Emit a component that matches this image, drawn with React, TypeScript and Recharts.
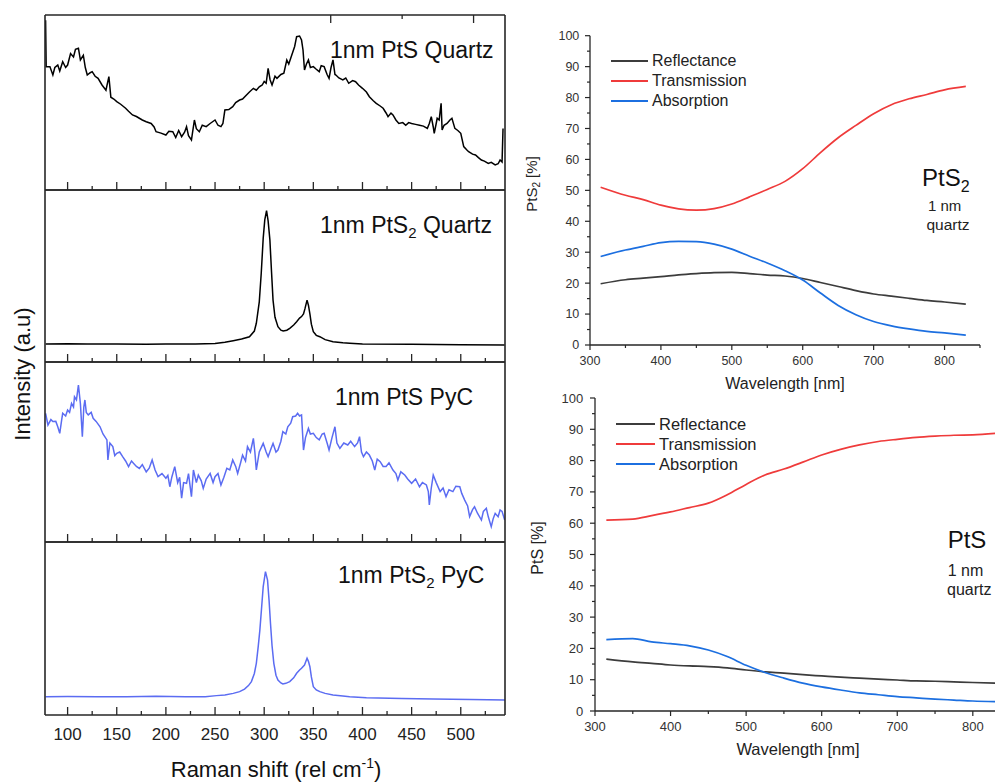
import { LineChart, Line, XAxis, YAxis, Legend } from 'recharts'

// Raman spectra: [shift (rel cm-1), intensity (0-100 = panel height)]
const ptsQuartz: [number, number][] = [
  [77.6, 97], [78.2, 70.5], [82, 70.5], [85, 65.7], [87, 70], [90, 71.4], [92, 68], [95, 73.3], [98, 70], [100, 71.4],
  [103, 78], [106, 76], [108, 80.4], [111, 81], [113, 74.3], [116, 77], [118, 70], [120, 65.7], [123, 67], [125, 67.6],
  [128, 65], [131, 63.8], [135, 60], [139, 57], [142, 64.8], [144, 53], [147, 52], [150, 50.5], [154, 49], [159, 46.7],
  [162, 45], [166, 42.9], [170, 42], [176, 40], [180, 39], [185, 38], [188, 36], [190, 33.3], [195, 32.5], [200, 31.4],
  [203, 33.5], [207, 33.3], [210, 30], [213, 34], [216, 30.5], [219, 33], [221, 36.2], [223, 31], [226, 28.6], [229, 40],
  [231, 35], [234, 33.3], [237, 37], [241, 36.2], [245, 38], [250, 40], [253, 37], [256, 36.2], [258, 38], [260, 45.7],
  [264, 46], [268, 47.6], [271, 50], [275, 51.4], [278, 52], [282, 54.3], [285, 56], [289, 58.1], [292, 57], [295, 59],
  [298, 60], [300, 62], [302, 61], [304, 69.5], [306, 63], [308, 60], [311, 65], [313, 63.8], [317, 66], [320, 66.7],
  [323, 74.3], [325, 72], [328, 77], [331, 82], [333, 87.6], [336, 88], [338, 85.7], [339.5, 80], [341, 68.6], [343, 72],
  [345, 74.3], [347, 70], [350, 70.5], [353, 69], [356, 67.6], [358, 71], [361, 70.5], [364, 66], [366, 63.8], [368, 70],
  [370, 74.3], [372, 66], [373, 65.7], [376, 64], [380, 62.9], [383, 64], [386, 61], [390, 62.5], [393, 61.9], [396, 60],
  [400, 58.1], [404, 56], [407, 53.3], [411, 51], [414, 49.5], [418, 48], [421, 46.7], [424, 44], [426, 41.9], [429, 44],
  [431, 42.9], [434, 40], [437, 38], [441, 38.5], [444, 37], [447, 38.5], [450, 38], [454, 37.5], [458, 37], [462, 36.5],
  [466, 35.2], [468, 38], [470, 41.9], [472, 36], [473, 32.4], [475, 38], [476, 41], [478, 40], [480, 49.5], [481, 34.3],
  [483, 37], [486, 38], [489, 40], [491, 41], [494, 35.2], [497, 34], [500, 32.4], [503, 24.8], [506, 23], [508, 21.9],
  [512, 20.5], [515, 20], [518, 18.5], [521, 17.1], [524, 16.5], [528, 15.2], [531, 15.8], [535, 14.3], [538, 15], [540, 17.1],
  [542, 16], [543, 35.2],
]

const pts2Quartz: [number, number][] = [
  [77.6, 10.5], [100, 10.6], [120, 10.4], [150, 10.5], [180, 10.3], [200, 10.5], [230, 10.5], [250, 10.8], [260, 11.5],
  [268.5, 12.4], [277, 13.4], [285, 14.7], [290, 18], [292, 22.5], [295, 35], [297, 51.6], [299, 72], [300.6, 82.6],
  [302.4, 88], [304, 82], [305.8, 71], [307.5, 52], [309, 36], [311, 26], [314, 20.5], [317, 18.5], [319.3, 18], [323, 18.5],
  [326, 19.6], [330, 21.5], [333, 23.4], [336, 25.5], [338, 26.4], [340, 28], [341.5, 31], [343.6, 36], [345, 33],
  [346.5, 28], [348, 22], [350, 17.6], [353, 15.5], [356.6, 14.7], [362, 13], [370, 11.8], [380, 11.2], [387, 10.9],
  [400, 10.5], [450, 10.3], [500, 10.1], [544.7, 9.9],
]

const ptsPyc: [number, number][] = [
  [77.6, 71.5], [80, 65], [83, 68], [85, 66.9], [88, 67], [90, 64], [92, 60.4], [94, 68], [95, 71.5], [98, 70], [100, 73.3],
  [102, 72], [104, 77], [106, 75], [107, 80.7], [109, 79], [111, 87.2], [113, 77], [115, 58.5], [116.5, 75], [117.6, 78.9],
  [119, 72], [121, 70.6], [124, 72], [126, 68.7], [129, 67], [133, 64], [136, 60], [140, 56.7], [141, 45.6], [143, 55],
  [146, 53], [148, 48], [150, 49.3], [153, 50], [156, 47.4], [159, 45], [162, 41.9], [165, 45], [167, 43.7], [170, 42],
  [173, 40.9], [176, 43], [180, 39], [183, 41], [186, 45.6], [189, 40], [192, 36.3], [196, 38], [200, 35.4], [202, 37],
  [204, 30.7], [206, 36], [209, 41.9], [212, 33], [214, 36], [216, 24.3], [218, 33], [221, 32.6], [223, 38], [226, 25.2],
  [228, 40], [231, 33], [233, 37.2], [236, 34], [238, 29.8], [241, 35], [245, 38.1], [248, 33], [250, 36.3], [253, 38],
  [256, 31.7], [259, 36], [262, 40.9], [265, 40], [268, 45.6], [271, 42], [273, 38.1], [276, 44], [278, 48.3], [281, 45],
  [283, 53], [286, 50], [289, 57.6], [290.5, 50], [292, 40], [295, 50], [299, 54.8], [302, 50], [304, 47.4], [307, 52],
  [309, 54.8], [312, 50], [314, 51.1], [317, 56], [319, 61.3], [322, 60], [324, 64], [327, 66], [329, 69.6], [332, 70],
  [334, 71.5], [336, 70], [338, 70.6], [340, 51.1], [342, 58], [345, 63.1], [347, 60], [350, 60.4], [353, 58], [356, 56.7],
  [359, 60], [361, 60.4], [364, 55], [366, 51.1], [369, 58], [372, 64], [374, 55], [377, 52], [381, 55], [385, 53.9],
  [388, 56], [392, 53], [395, 55], [397, 58.5], [399, 50], [401, 47.4], [404, 50], [407, 48.3], [410, 45], [412.5, 40],
  [415, 46], [418, 44.6], [421, 42], [424, 41.9], [427, 44], [431, 40], [434, 38], [436, 34.4], [439, 39], [443, 37.2],
  [446, 35], [450, 32.6], [454, 35], [458, 30.7], [461, 33], [465, 31.7], [467, 28], [468, 20.6], [470, 30], [472, 37.2],
  [475, 33], [479, 28], [482, 30], [485, 25.2], [488, 29], [492, 28], [495, 31], [499, 30.7], [501, 27], [504, 23.3],
  [507, 20], [509, 14.1], [512, 18], [514, 19.6], [517, 16], [521, 12.2], [523, 17], [526, 18.7], [528, 14], [531, 8.5],
  [533, 13], [535, 15.9], [538, 14], [540, 17.8], [542, 17], [544.7, 12.2],
]

const pts2Pyc: [number, number][] = [
  [77.6, 10.6], [100, 10.7], [130, 10.5], [160, 10.6], [190, 10.8], [220, 10.5], [240, 10.6], [251.5, 11.2], [260, 11.6],
  [268.5, 12.5], [275, 13.5], [280, 15], [284, 17], [287, 19.3], [290, 24], [292, 29.9], [294, 40], [295.6, 49.1],
  [297.5, 63], [299, 74.2], [301.3, 82.9], [303.4, 78], [305, 66], [306.4, 53], [308, 40], [309.8, 29.9], [312, 23],
  [314, 20.2], [317, 18.5], [319, 17.9], [322, 18.3], [326, 19.3], [330, 21.5], [333, 24.1], [336, 26], [338, 27],
  [341, 28.9], [343.6, 32.8], [345, 31], [346.5, 27.9], [348, 22], [350, 16.4], [353, 14.5], [356.6, 13.5], [362, 12.5],
  [370, 11.6], [380, 11], [387, 10.6], [404, 10], [440, 9.6], [472, 9.2], [510, 9], [545, 8.7],
]

const RAMAN_MAJOR = [100, 150, 200, 250, 300, 350, 400, 450, 500]
const RAMAN_MINOR = [125, 175, 225, 275, 325, 375, 425, 475, 525]

// optical spectra (%), shared wavelength grid in nm
const wavelength = [315, 350, 375, 400, 425, 450, 475, 500, 525, 550, 575, 600, 625, 650, 675, 700, 725, 750, 775, 800, 830]

const pts2Refl = [19.8, 21.1, 21.6, 22.1, 22.7, 23.1, 23.4, 23.5, 23.1, 22.6, 22.3, 21.5, 20.2, 18.9, 17.6, 16.5, 15.8, 15.1, 14.4, 13.9, 13.2]
const pts2Trans = [51, 48.4, 47, 45.2, 44, 43.6, 44.1, 45.6, 47.9, 50.3, 52.9, 57, 62.2, 67, 71, 74.8, 77.7, 79.6, 81, 82.5, 83.6]
const pts2Abs = [28.6, 30.7, 31.9, 33.1, 33.5, 33.4, 32.6, 31, 28.7, 26.5, 24, 21, 16.8, 12.8, 9.8, 7.6, 6.2, 5.2, 4.4, 3.9, 3.2]

const ptsRefl = [16.6, 15.7, 15.2, 14.7, 14.4, 14.2, 13.8, 13.1, 12.5, 12.1, 11.6, 11.2, 10.8, 10.5, 10.2, 9.9, 9.6, 9.5, 9.3, 9.1, 8.9]
const ptsTrans = [61, 61.3, 62.4, 63.6, 65, 66.4, 69.1, 72.4, 75.4, 77.3, 79.5, 81.8, 83.6, 85, 86.1, 86.8, 87.4, 87.8, 88.1, 88.2, 88.7]
const ptsAbs = [22.8, 23.1, 22.1, 21.5, 20.8, 19.5, 17.4, 14.6, 12.3, 10.5, 8.9, 7.7, 6.7, 5.8, 5.2, 4.6, 4.2, 3.8, 3.5, 3.2, 3]

const WL_MAJOR = [300, 400, 500, 600, 700, 800]
const WL_MINOR = [350, 450, 550, 650, 750, 850]
const PCT_MAJOR = [0, 10, 20, 30, 40, 50, 60, 70, 80, 90, 100]
const PCT_MINOR = [5, 15, 25, 35, 45, 55, 65, 75, 85, 95]
const LEGEND_ORDER = ['Reflectance', 'Transmission', 'Absorption']

const FONT = 'Arial, "Liberation Sans", sans-serif'
const FRAME = '#262626'
const BLACK = '#000000'
const PERIWINKLE = '#5b6cf2'
const GREY = '#3c3c3c'
const RED = '#ef3b3b'
const BLUE = '#1c6fe0'

// inward ticks on the Raman panels, labels only below the last one
const ramanTick = (side: 'top' | 'bottom', show: boolean, showLabel: boolean) => (props: any) => {
  const { x, y, payload } = props
  if (!show) return <g />
  const major = RAMAN_MAJOR.includes(payload.value)
  const len = major ? 8 : 4
  const dir = side === 'bottom' ? -1 : 1
  return (
    <g>
      <line x1={x} x2={x} y1={y} y2={y + dir * len} stroke={FRAME} strokeWidth={1.3} />
      {showLabel && major && (
        <text x={x} y={y + 25} textAnchor="middle" fontSize={17} fill="#222">{payload.value}</text>
      )}
    </g>
  )
}

interface PanelProps {
  data: [number, number][]
  color: string
  top: number
  height: number
  topTicks?: boolean
  labels?: boolean
}

const RamanPanel = ({ data, color, top, height, topTicks = false, labels = false }: PanelProps) => {
  const pad = 6
  const extra = labels ? 30 : 0
  const rows = data.map(([shift, intensity]) => ({ shift, intensity }))
  const axisLine = { stroke: FRAME, strokeWidth: 1.6 }
  // axes are 1px thick, so the margins give up that pixel
  return (
    <div style={{ position: 'absolute', left: 45 - pad, top: top - pad }}>
      <LineChart
        width={460 + 2 * pad}
        height={height + 2 * pad + extra}
        data={rows}
        margin={{ top: pad - 1, right: pad - 1, bottom: pad + extra - 1, left: pad - 1 }}
      >
        <XAxis
          xAxisId="b"
          dataKey="shift"
          type="number"
          domain={[77, 545]}
          allowDataOverflow
          ticks={[...RAMAN_MAJOR, ...RAMAN_MINOR]}
          interval={0}
          height={1}
          tickSize={0}
          tickMargin={0}
          tickLine={false}
          axisLine={axisLine}
          tick={ramanTick('bottom', true, labels)}
        />
        <XAxis
          xAxisId="t"
          orientation="top"
          type="number"
          domain={[77, 545]}
          allowDataOverflow
          ticks={[...RAMAN_MAJOR, ...RAMAN_MINOR]}
          interval={0}
          height={1}
          tickSize={0}
          tickMargin={0}
          tickLine={false}
          axisLine={axisLine}
          tick={ramanTick('top', topTicks, false)}
        />
        <YAxis yAxisId="l" domain={[0, 100]} ticks={[0, 100]} width={1} tick={false} tickLine={false} axisLine={axisLine} />
        <YAxis
          yAxisId="r"
          orientation="right"
          domain={[0, 100]}
          ticks={[0, 100]}
          width={1}
          tick={false}
          tickLine={false}
          axisLine={axisLine}
        />
        <Line
          xAxisId="b"
          yAxisId="l"
          type="linear"
          dataKey="intensity"
          stroke={color}
          strokeWidth={1.5}
          dot={false}
          isAnimationActive={false}
        />
      </LineChart>
    </div>
  )
}

const wlTick = (fs: number, gap: number) => (props: any) => {
  const { x, y, payload } = props
  const major = WL_MAJOR.includes(payload.value)
  return (
    <g>
      <line x1={x} x2={x} y1={y} y2={y + (major ? 5 : 3)} stroke={FRAME} strokeWidth={1.2} />
      {major && (
        <text x={x} y={y + gap} textAnchor="middle" fontSize={fs} fill="#333">{payload.value}</text>
      )}
    </g>
  )
}

const pctTick = (fs: number, gap: number) => (props: any) => {
  const { x, y, payload } = props
  const major = PCT_MAJOR.includes(payload.value)
  return (
    <g>
      <line x1={x} x2={x - (major ? 5 : 3)} y1={y} y2={y} stroke={FRAME} strokeWidth={1.2} />
      {major && (
        <text x={x - gap} y={y + fs * 0.35} textAnchor="end" fontSize={fs} fill="#333">{payload.value}</text>
      )}
    </g>
  )
}

const legendContent = (fs: number, lineLen: number) => (props: any) => {
  const items = [...(props.payload || [])].sort(
    (a: any, b: any) => LEGEND_ORDER.indexOf(a.value) - LEGEND_ORDER.indexOf(b.value)
  )
  return (
    <div style={{ fontFamily: FONT }}>
      {items.map((p: any) => (
        <div key={p.value} style={{ display: 'flex', alignItems: 'center', height: 20 }}>
          <span style={{ display: 'inline-block', width: lineLen, borderTop: `2px solid ${p.color}`, marginRight: 4 }} />
          <span style={{ fontSize: fs, color: '#222', lineHeight: '20px', whiteSpace: 'nowrap' }}>{p.value}</span>
        </div>
      ))}
    </div>
  )
}

interface OpticalProps {
  left: number
  top: number
  width: number
  height: number
  margin: { top: number; right: number; bottom: number; left: number }
  refl: number[]
  trans: number[]
  abs: number[]
  tickFont: number
  xGap: number
  yGap: number
  legendTop: number
  legendFont: number
  legendLine: number
}

const OpticalChart = (p: OpticalProps) => {
  const rows = wavelength.map((wl, i) => ({ wl, refl: p.refl[i], trans: p.trans[i], abs: p.abs[i] }))
  const axisLine = { stroke: FRAME, strokeWidth: 1.3 }
  return (
    <div style={{ position: 'absolute', left: p.left, top: p.top }}>
      <LineChart width={p.width} height={p.height} data={rows} margin={p.margin}>
        <XAxis
          dataKey="wl"
          type="number"
          domain={[300, 850]}
          allowDataOverflow
          ticks={[...WL_MAJOR, ...WL_MINOR]}
          interval={0}
          height={1}
          tickSize={0}
          tickMargin={0}
          tickLine={false}
          axisLine={axisLine}
          tick={wlTick(p.tickFont, p.xGap)}
        />
        <YAxis
          type="number"
          domain={[0, 100]}
          allowDataOverflow
          ticks={[...PCT_MAJOR, ...PCT_MINOR]}
          interval={0}
          width={1}
          tickSize={0}
          tickMargin={0}
          tickLine={false}
          axisLine={axisLine}
          tick={pctTick(p.tickFont, p.yGap)}
        />
        <Legend
          layout="vertical"
          align="center"
          verticalAlign="middle"
          wrapperStyle={{ left: 81, top: p.legendTop, width: 200 }}
          content={legendContent(p.legendFont, p.legendLine)}
        />
        <Line type="monotone" dataKey="refl" name="Reflectance" stroke={GREY} strokeWidth={1.7} dot={false} isAnimationActive={false} />
        <Line type="monotone" dataKey="trans" name="Transmission" stroke={RED} strokeWidth={1.7} dot={false} isAnimationActive={false} />
        <Line type="monotone" dataKey="abs" name="Absorption" stroke={BLUE} strokeWidth={1.7} dot={false} isAnimationActive={false} />
      </LineChart>
    </div>
  )
}

export default function App() {
  return (
    <div
      style={{
        position: 'fixed',
        left: 0,
        top: 0,
        width: 995,
        height: 782,
        overflow: 'hidden',
        background: '#fff',
        fontFamily: FONT,
      }}
    >
      <RamanPanel data={ptsQuartz} color={BLACK} top={15} height={175} topTicks />
      <RamanPanel data={pts2Quartz} color={BLACK} top={190} height={172} />
      <RamanPanel data={ptsPyc} color={PERIWINKLE} top={362} height={180} />
      <RamanPanel data={pts2Pyc} color={PERIWINKLE} top={542} height={173} labels />

      <OpticalChart
        left={530}
        top={20}
        width={460}
        height={370}
        margin={{ top: 15.7, right: 10, bottom: 44, left: 59 }}
        refl={pts2Refl}
        trans={pts2Trans}
        abs={pts2Abs}
        tickFont={12.5}
        xGap={20}
        yGap={10.7}
        legendTop={30.7}
        legendFont={16}
        legendLine={37}
      />
      <OpticalChart
        left={535}
        top={380}
        width={490}
        height={370}
        margin={{ top: 18, right: 14.4, bottom: 38, left: 59 }}
        refl={ptsRefl}
        trans={ptsTrans}
        abs={ptsAbs}
        tickFont={13}
        xGap={19.7}
        yGap={11.7}
        legendTop={34}
        legendFont={16.5}
        legendLine={39}
      />

      <svg width={995} height={782} style={{ position: 'absolute', left: 0, top: 0, pointerEvents: 'none' }}>
        <g fill="#111" fontSize={23}>
          <text x={330} y={57.5}>1nm PtS Quartz</text>
          <text x={320} y={233}>
            1nm PtS<tspan fontSize={15} dy={5}>2</tspan>
            <tspan dy={-5}> Quartz</tspan>
          </text>
          <text x={335} y={405}>1nm PtS PyC</text>
          <text x={338} y={583}>
            1nm PtS<tspan fontSize={15} dy={5}>2</tspan>
            <tspan dy={-5}> PyC</tspan>
          </text>
        </g>
        <text x={276} y={776.5} textAnchor="middle" fontSize={22} fill="#111">
          Raman shift (rel cm<tspan fontSize={14} dy={-9}>-1</tspan>
          <tspan dy={9}>)</tspan>
        </text>
        <text transform="translate(29.5,374) rotate(-90)" textAnchor="middle" fontSize={22} fill="#111">
          Intensity (a.u)
        </text>

        <text x={785} y={389} textAnchor="middle" fontSize={16} fill="#222">Wavelength [nm]</text>
        <text transform="translate(537,184) rotate(-90)" textAnchor="middle" fontSize={15} fill="#222">
          PtS<tspan fontSize={10} dy={3}>2</tspan>
          <tspan dy={-3}> [%]</tspan>
        </text>
        <text x={922} y={185.5} fontSize={24} fill="#111">
          PtS<tspan fontSize={16} dy={6}>2</tspan>
        </text>
        <text x={928} y={210.5} fontSize={15} fill="#222">1 nm</text>
        <text x={926.5} y={230} fontSize={15.5} fill="#222">quartz</text>

        <text x={798} y={755} textAnchor="middle" fontSize={16.5} fill="#222">Wavelength [nm]</text>
        <text transform="translate(543,548) rotate(-90)" textAnchor="middle" fontSize={16} fill="#222">PtS [%]</text>
        <text x={947.7} y={548} fontSize={24} fill="#111">PtS</text>
        <text x={947.7} y={576} fontSize={16} fill="#222">1 nm</text>
        <text x={947} y={595} fontSize={16} fill="#222">quartz</text>
      </svg>
    </div>
  )
}
